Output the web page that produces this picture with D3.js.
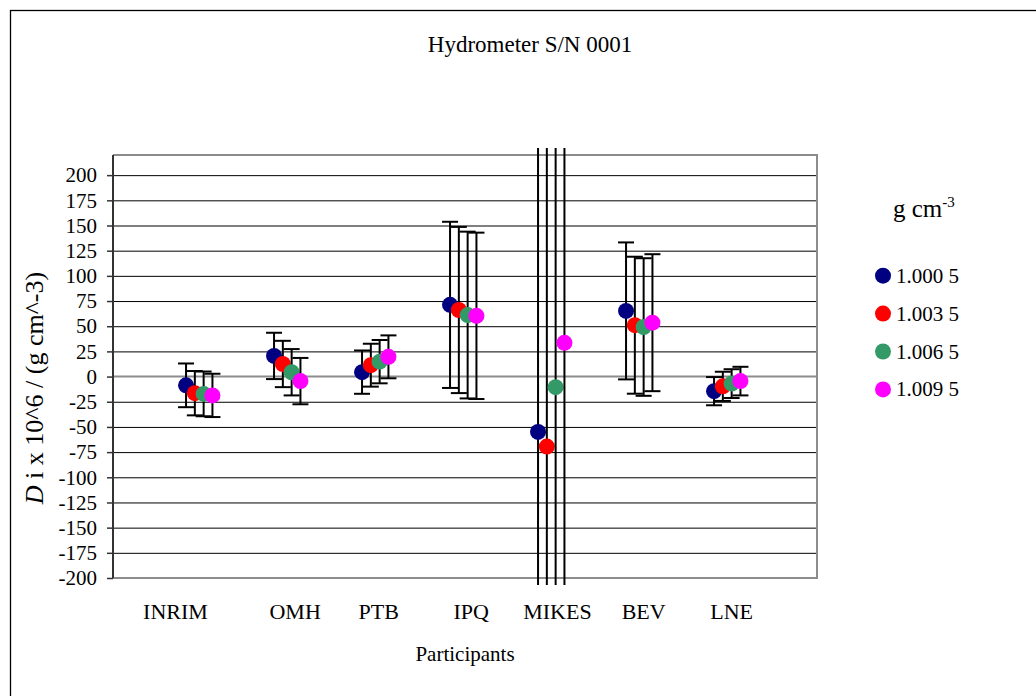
<!DOCTYPE html>
<html>
<head>
<meta charset="utf-8">
<script src="https://cdn.jsdelivr.net/npm/d3@7"></script>
<style>
  body { margin: 0; background: #fff; }
  text { font-family: "Liberation Serif", "Times New Roman", serif; fill: #000; }
</style>
</head>
<body>
<div id="target"></div>
<script>
var WIDTH = 1036;
var HEIGHT = 696;

// participants and where their labels sit (x units of the chart)
var participants = ["INRIM", "OMH", "PTB", "IPQ", "MIKES", "BEV", "LNE"];
var labelPos = [0.71, 2.07, 3.02, 4.07, 5.05, 6.03, 7.03];

// series = nominal density of the hydrometer point
var densities = ["1.000 5", "1.003 5", "1.006 5", "1.009 5"];
var colors = ["#000080", "#ff0000", "#339966", "#ff00ff"];
var seriesShift = [-0.17, -0.07, 0.03, 0.13];

// D i x 10^6 per participant
var d10005 = [-8.7, 20.5, 4.4, 71.2, -55.0, 65.2, -14.5];
var d10035 = [-16.5, 12.5, 11.3, 66.1, -69.5, 51.0, -9.7];
var d10065 = [-17.2, 4.3, 14.8, 61.1, -10.5, 49.2, -7.0];
var d10095 = [-18.7, -4.5, 19.6, 60.3, 33.5, 53.5, -4.5];

// expanded uncertainties
var u10005 = [21.7, 23.0, 21.5, 82.5, 300, 68.0, 14.0];
var u10035 = [22.0, 23.0, 21.3, 82.5, 300, 68.0, 14.5];
var u10065 = [22.2, 23.0, 21.5, 82.8, 300, 68.3, 14.3];
var u10095 = [21.5, 23.0, 21.3, 82.6, 300, 68.0, 14.2];

var yTicks = d3.range(-200, 201, 25);

var values = [d10005, d10035, d10065, d10095];
var uncs = [u10005, u10035, u10065, u10095];

var pLeft = 113, pRight = 817, pTop = 155, pBottom = 578;

var svg = d3.select("#target").append("svg")
  .attr("width", WIDTH)
  .attr("height", HEIGHT);

svg.append("rect").attr("width", WIDTH).attr("height", HEIGHT).attr("fill", "#fff");

// chart area border (runs off the page on right and bottom)
svg.append("rect")
  .attr("x", 10.5).attr("y", 10.5)
  .attr("width", 1200).attr("height", 900)
  .attr("fill", "none").attr("stroke", "#000").attr("stroke-width", 1.3);

var x = d3.scaleLinear().domain([0, 8]).range([pLeft, pRight]);
var y = d3.scaleLinear().domain([-200, 220]).range([pBottom, pTop]);

// gridlines
svg.append("g")
  .attr("transform", "translate(" + pLeft + ",0)")
  .call(d3.axisLeft(y).tickValues(yTicks.filter(function(t) { return t > -200 && t !== 0; }))
    .tickSize(-(pRight - pLeft)).tickFormat(""))
  .call(function(g) {
    g.select(".domain").remove();
    g.selectAll("line").attr("stroke", "#000").attr("stroke-width", 1);
  });

// plot border
svg.append("path")
  .attr("d", "M" + pLeft + "," + pTop + "H" + pRight + "V" + pBottom + "H" + pLeft)
  .attr("fill", "none").attr("stroke", "#8c8c8c").attr("stroke-width", 2);

// x axis line at zero
svg.append("line")
  .attr("x1", pLeft).attr("x2", pRight)
  .attr("y1", y(0)).attr("y2", y(0))
  .attr("stroke", "#8c8c8c").attr("stroke-width", 2);

// y axis
var yAxis = svg.append("g")
  .attr("transform", "translate(" + pLeft + ",0)")
  .call(d3.axisLeft(y).tickValues(yTicks).tickSize(6).tickPadding(10).tickFormat(d3.format("d")));
yAxis.select(".domain").attr("d", "M0," + pTop + "V" + pBottom).attr("stroke", "#333").attr("stroke-width", 2);
yAxis.selectAll(".tick line").attr("stroke", "#333").attr("stroke-width", 1.5);
yAxis.selectAll("text")
  .style("font-family", "'Liberation Serif', 'Times New Roman', serif")
  .style("font-size", "21px")
  .attr("fill", "#000")
  .text(function(d) { return d < 0 ? "-" + Math.abs(d) : d; });

// error bars are allowed a little past the plot frame
svg.append("clipPath").attr("id", "barclip")
  .append("rect")
  .attr("x", pLeft).attr("y", pTop - 7)
  .attr("width", pRight - pLeft).attr("height", pBottom - pTop + 14);

var plot = svg.append("g").attr("clip-path", "url(#barclip)");

values.forEach(function(vals, s) {
  var pts = vals.map(function(v, i) {
    return { x: i + 1 + seriesShift[s], v: v, u: uncs[s][i] };
  });
  var g = plot.append("g");
  var bars = g.selectAll(".err").data(pts).enter().append("g").attr("class", "err")
    .attr("stroke", "#000").attr("stroke-width", 2);
  bars.append("line")
    .attr("x1", function(d) { return x(d.x); })
    .attr("x2", function(d) { return x(d.x); })
    .attr("y1", function(d) { return y(d.v + d.u); })
    .attr("y2", function(d) { return y(d.v - d.u); });
  bars.append("line")
    .attr("x1", function(d) { return x(d.x) - 8; })
    .attr("x2", function(d) { return x(d.x) + 8; })
    .attr("y1", function(d) { return y(d.v + d.u); })
    .attr("y2", function(d) { return y(d.v + d.u); });
  bars.append("line")
    .attr("x1", function(d) { return x(d.x) - 8; })
    .attr("x2", function(d) { return x(d.x) + 8; })
    .attr("y1", function(d) { return y(d.v - d.u); })
    .attr("y2", function(d) { return y(d.v - d.u); });
  g.selectAll("circle").data(pts).enter().append("circle")
    .attr("cx", function(d) { return x(d.x); })
    .attr("cy", function(d) { return y(d.v); })
    .attr("r", 8)
    .attr("fill", colors[s]);
});

// participant labels
svg.append("g").selectAll("text").data(participants).enter().append("text")
  .attr("x", function(d, i) { return x(labelPos[i]); })
  .attr("y", 619)
  .attr("text-anchor", "middle")
  .style("font-size", "22px")
  .text(function(d) { return d; });

svg.append("text")
  .attr("x", 465).attr("y", 661)
  .attr("text-anchor", "middle")
  .style("font-size", "21px")
  .text("Participants");

svg.append("text")
  .attr("x", 530).attr("y", 52)
  .attr("text-anchor", "middle")
  .style("font-size", "23px")
  .text("Hydrometer S/N 0001");

var yl = svg.append("text")
  .attr("transform", "translate(43,388) rotate(-90)")
  .attr("text-anchor", "middle")
  .style("font-size", "26px");
yl.append("tspan").style("font-style", "italic").text("D");
yl.append("tspan").text(" i x 10^6 / (g cm^-3)");

// legend
var lt = svg.append("text").attr("x", 893).attr("y", 217).style("font-size", "25px");
lt.append("tspan").text("g cm");
lt.append("tspan").attr("dy", -10).style("font-size", "15px").text("-3");

var leg = svg.append("g").selectAll("g").data(densities).enter().append("g")
  .attr("transform", function(d, i) { return "translate(883," + (275.7 + i * 37.9) + ")"; });
leg.append("circle").attr("r", 8).attr("fill", function(d, i) { return colors[i]; });
leg.append("text").attr("x", 13).attr("y", 7).style("font-size", "21px").text(function(d) { return d; });
</script>
</body>
</html>
